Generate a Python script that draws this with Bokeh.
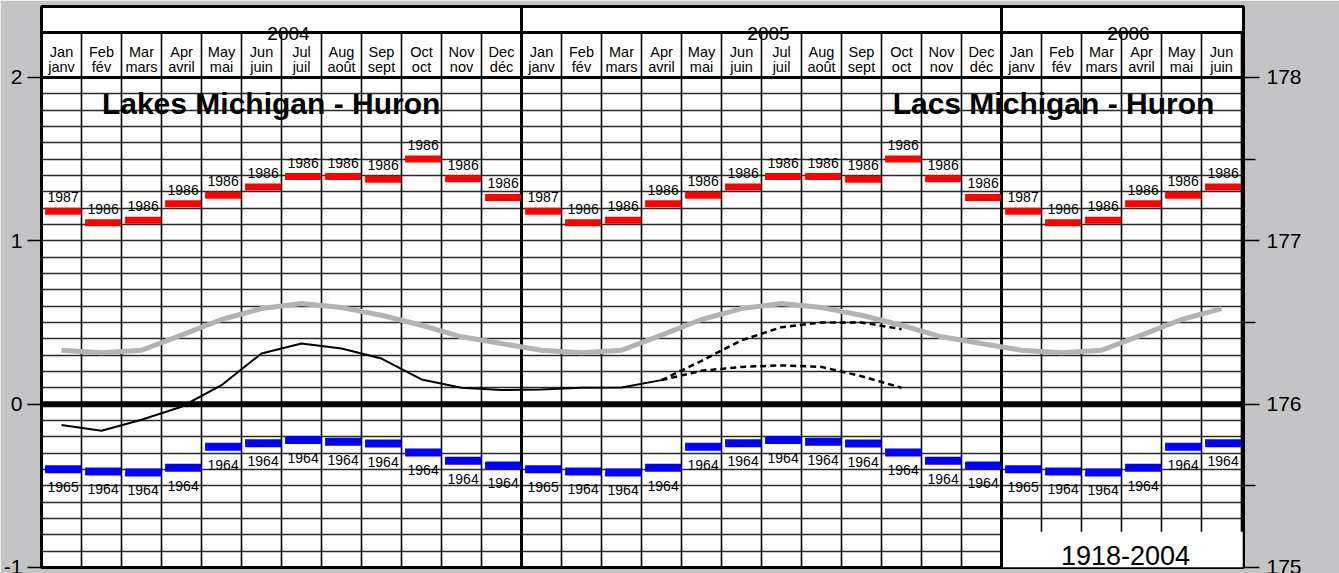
from bokeh.plotting import figure
from bokeh.models import Range1d, LinearAxis, FixedTicker
from bokeh.core.properties import value
from bokeh.embed import file_html
from bokeh.resources import INLINE

# ---------------- data ----------------
months_en = ["Jan", "Feb", "Mar", "Apr", "May", "Jun", "Jul", "Aug", "Sep", "Oct", "Nov", "Dec"]
months_fr = ["janv", "fév", "mars", "avril", "mai", "juin", "juil", "août", "sept", "oct", "nov", "déc"]
years = ["2004", "2005", "2006"]
year_months = [12, 12, 6]

# record highs (1918-2004), metres relative to chart datum
max_level = [1.18, 1.11, 1.125, 1.227, 1.278, 1.329, 1.393, 1.393, 1.376, 1.50, 1.38, 1.265]
max_year = ["1987", "1986", "1986", "1986", "1986", "1986", "1986", "1986", "1986", "1986", "1986", "1986"]
# record lows
min_level = [-0.398, -0.412, -0.418, -0.39, -0.261, -0.24, -0.22, -0.23, -0.241, -0.296, -0.347, -0.375]
min_year = ["1965", "1964", "1964", "1964", "1964", "1964", "1964", "1964", "1964", "1964", "1964", "1964"]
# long-term monthly average
avg_level = [0.33, 0.314, 0.33, 0.422, 0.518, 0.585, 0.616, 0.591, 0.544, 0.483, 0.412, 0.371]
# recorded levels Jan 2004 - Apr 2005
observed_level = [-0.128, -0.163, -0.096, -0.016, 0.116, 0.31, 0.371, 0.34, 0.279, 0.151, 0.1, 0.086,
                  0.09, 0.1, 0.102, 0.147]
# forecast range Apr 2005 - Oct 2005
forecast_high = [0.147, 0.265, 0.391, 0.471, 0.5, 0.5, 0.459]
forecast_low = [0.147, 0.204, 0.228, 0.237, 0.228, 0.171, 0.1]

# ---------------- derived series ----------------
n = sum(year_months)
xc = [i + 0.5 for i in range(n)]
mi = [i % 12 for i in range(n)]
max_s = [max_level[m] for m in mi]
max_t = [max_year[m] for m in mi]
min_s = [min_level[m] for m in mi]
min_t = [min_year[m] for m in mi]
avg_s = [avg_level[m] for m in mi]
en_s = [months_en[m] for m in mi]
fr_s = [months_fr[m] for m in mi]
obs_x = [i + 0.5 for i in range(len(observed_level))]
fc_start = len(observed_level) - 1
fc_x = [fc_start + i + 0.5 for i in range(len(forecast_high))]

DATUM = 176.0
Y_LO, Y_HI = -1.0, 2.434
X_HI = n + 0.05
HDR_MONTH = 2.0
HDR_YEAR = 2.275

FONT = "Liberation Sans"
GREY_BG = "#c4c4c6"

p = figure(width=1339, height=573, x_range=Range1d(0, X_HI), y_range=Range1d(Y_LO, Y_HI),
           output_backend="svg", toolbar_location=None, x_axis_location=None,
           background_fill_color="white", border_fill_color=GREY_BG,
           outline_line_color="black", outline_line_width=3,
           min_border_left=40, min_border_right=96, min_border_top=6, min_border_bottom=6)

# left axis
ya = p.yaxis[0]
ya.ticker = FixedTicker(ticks=[-1, 0, 1, 2], minor_ticks=[])
ya.major_tick_out = 14
ya.major_tick_in = 0
ya.minor_tick_out = 0
ya.minor_tick_in = 0
ya.major_tick_line_width = 1.5
ya.axis_line_color = None
ya.major_label_standoff = 5
ya.major_label_text_font = FONT
ya.major_label_text_font_size = "21px"
ya.major_label_text_color = "black"
ya.major_label_overrides = {-1: "-1"}

# right axis (metres above sea level)
p.extra_y_ranges = {"m": Range1d(Y_LO + DATUM, Y_HI + DATUM)}
ra = LinearAxis(y_range_name="m",
                ticker=FixedTicker(ticks=[175, 176, 177, 178], minor_ticks=[175.5, 176.5, 177.5]),
                major_tick_out=16, major_tick_in=0, minor_tick_out=12, minor_tick_in=0,
                major_tick_line_width=1.5, minor_tick_line_width=1.5, minor_tick_line_color="black",
                axis_line_color=None, major_label_standoff=7,
                major_label_text_font=FONT, major_label_text_font_size="21px",
                major_label_text_color="black")
p.add_layout(ra, "right")

# horizontal grid every 0.1
p.xgrid.visible = False
p.ygrid.ticker = FixedTicker(ticks=[round(-0.9 + 0.1 * k, 1) for k in range(29)])
p.ygrid.grid_line_color = "#2a2a2a"
p.ygrid.grid_line_width = 1.4

# month separators
year_bounds = []
acc = 0
for ym in year_months[:-1]:
    acc += ym
    year_bounds.append(acc)
mlines = [k for k in range(1, n + 1) if k not in year_bounds]
p.segment(x0=mlines, y0=[Y_LO] * len(mlines), x1=mlines, y1=[HDR_YEAR] * len(mlines),
          line_color="black", line_width=1.6)

# 1918-2004 box
p.quad(left=[year_bounds[-1] + 0.03], right=[n + 0.03], bottom=[Y_LO], top=[-0.781],
       fill_color="white", line_color=None)

# header lines and year separators
p.segment(x0=[0, 0], y0=[HDR_MONTH, HDR_YEAR], x1=[X_HI, X_HI], y1=[HDR_MONTH, HDR_YEAR],
          line_color="black", line_width=3)
p.segment(x0=year_bounds, y0=[Y_LO] * len(year_bounds), x1=year_bounds, y1=[Y_HI] * len(year_bounds),
          line_color="black", line_width=3)
# zero line
p.segment(x0=[0], y0=[0], x1=[X_HI], y1=[0], line_color="black", line_width=6)

# long-term average
p.line(xc, avg_s, line_color="#b3b3b3", line_width=5)
# recorded
p.line(obs_x, observed_level, line_color="black", line_width=2)
# forecast
p.line(fc_x, forecast_high, line_color="black", line_width=2.5, line_dash="6 4")
p.line(fc_x, forecast_low, line_color="black", line_width=2.5, line_dash="6 4")

# record bars
bx = [x + 0.04 for x in xc]
p.rect(x=bx, y=max_s, width=0.9, height=7, height_units="screen", fill_color="#ff0000", line_color=None)
p.rect(x=bx, y=min_s, width=0.9, height=8, height_units="screen", fill_color="#0000ff", line_color=None)
p.text(x=bx, y=max_s, text=max_t, text_font=value(FONT), text_font_size="14px",
       text_align="center", text_baseline="middle", y_offset=-14, text_color="black")
p.text(x=bx, y=min_s, text=min_t, text_font=value(FONT), text_font_size="14px",
       text_align="center", text_baseline="middle", y_offset=18, text_color="black")

# month labels
p.text(x=xc, y=[2.157] * n, text=en_s, text_font=value(FONT), text_font_size="14.5px",
       text_align="center", text_baseline="middle", text_color="black")
p.text(x=xc, y=[2.064] * n, text=fr_s, text_font=value(FONT), text_font_size="14.5px",
       text_align="center", text_baseline="middle", text_color="black")

# year labels
ystart = 0
ycent = []
for ym in year_months:
    ycent.append(ystart + ym / 2)
    ystart += ym
p.text(x=ycent, y=[HDR_YEAR] * len(ycent), text=years, text_font=value(FONT), text_font_size="19px",
       text_align="center", text_baseline="alphabetic", x_offset=7, y_offset=1, text_color="black")

# titles
p.text(x=[5.74, 25.3], y=[1.84, 1.84], text=["Lakes Michigan - Huron", "Lacs Michigan - Huron"],
       text_font=value(FONT), text_font_style="bold", text_font_size="30px",
       text_align="center", text_baseline="middle", text_color="black")

# period label
p.text(x=[27.1], y=[-0.924], text=["1918-2004"], text_font=value(FONT), text_font_size="27px",
       text_align="center", text_baseline="middle", text_color="black")

open("out.html", "w").write(file_html(p, INLINE))
